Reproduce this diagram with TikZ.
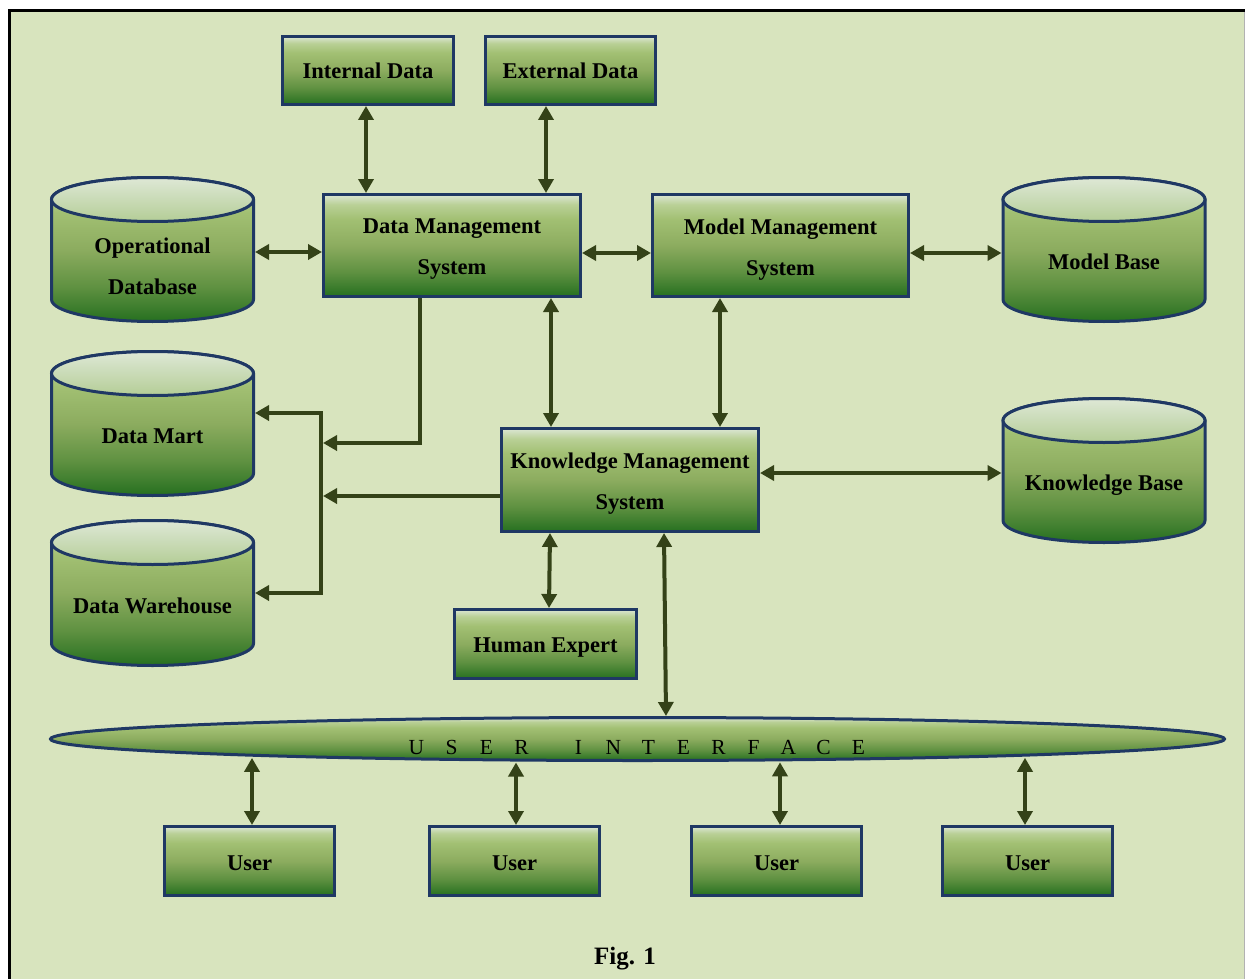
\documentclass[tikz,border=0pt]{standalone}
\usepackage{fontspec}
\setmainfont{Liberation Serif}
\usetikzlibrary{arrows.meta,shapes.geometric}
\definecolor{bg}{RGB}{216,228,190}
\definecolor{navy}{RGB}{31,56,100}
\definecolor{arrc}{RGB}{52,66,24}
\definecolor{gbz}{RGB}{38,112,32}
\definecolor{gba}{RGB}{95,145,65}
\definecolor{gbb}{RGB}{140,172,95}
\definecolor{gbc}{RGB}{162,192,115}
\definecolor{gbd}{RGB}{185,208,150}
\definecolor{gbe}{RGB}{220,230,212}
\definecolor{cta}{RGB}{222,232,214}
\definecolor{ctb}{RGB}{180,205,150}
\pgfdeclareverticalshading{gbox}{100bp}{color(0bp)=(gbz); color(25bp)=(gbz); color(37bp)=(gba); color(50bp)=(gbb); color(63bp)=(gbc); color(70bp)=(gbd); color(75bp)=(gbe); color(100bp)=(gbe)}
\newcommand\mainf{\fontsize{22.5}{41}\selectfont\bfseries}
\newcommand\ls[1]{\makebox[35pt]{#1}}
\newcommand\cylshape[3]{%
  \shade[shading=gbox, draw=navy, line width=3pt] ({#1-101},#2) -- ({#1-101},#3)
    arc[start angle=180,end angle=0,x radius=101,y radius=22] -- ({#1+101},#2)
    arc[start angle=0,end angle=-180,x radius=101,y radius=22] -- cycle;
  \shade[top color=cta, bottom color=ctb, draw=navy, line width=3pt] (#1,#2) ellipse[x radius=101, y radius=22];
}
\begin{document}
\begin{tikzpicture}[x=1pt,y=-1pt,
  boxs/.style={draw=navy, line width=3pt, shade, shading=gbox, inner sep=0pt},
  lbl/.style={align=center, font=\mainf, inner sep=0pt},
  cyltext/.style={inner sep=0pt, outer sep=0pt, minimum width=205pt, align=center, font=\mainf},
  tipa/.tip={Triangle[length=14pt,width=15pt]},
  dbl/.style={draw=arrc, line width=4pt, tipa-tipa},
  sgl/.style={draw=arrc, line width=4pt, -tipa}]
\fill[white] (0,0) rectangle (1245,979);
\useasboundingbox (0,0) rectangle (1245,979);
\fill[bg] (8,9) rectangle (1245,979);
\draw[black, line width=3pt] (9.5,979) -- (9.5,10.5) -- (1245,10.5);
\draw[gray!60, line width=1pt] (1244.5,12) -- (1244.5,979);

% cylinders
\cylshape{152.5}{199.5}{299.5}
\cylshape{1104}{199.5}{299.5}
\cylshape{152.5}{373.5}{473.5}
\cylshape{152.5}{542.5}{643.5}
\cylshape{1104}{420.5}{520.5}
\node[cyltext] (opdb) at (152.5,266) {Operational\\Database};
\node[cyltext] (mbase) at (1104,262) {Model Base};
\node[cyltext] (dmart) at (152.5,436) {Data Mart};
\node[cyltext] (dware) at (152.5,606) {Data Warehouse};
\node[cyltext] (kbase) at (1104,485) {Knowledge Base};

% boxes
\node[boxs, minimum width=171pt, minimum height=68pt, label={[lbl]center:Internal Data}] (idata) at (368,70.5) {};
\node[boxs, minimum width=170pt, minimum height=68pt, label={[lbl]center:External Data}] (edata) at (570.5,70.5) {};
\node[boxs, minimum width=257pt, minimum height=102pt, label={[lbl,yshift=-4pt]center:Data Management\\System}] (dms) at (452,245.5) {};
\node[boxs, minimum width=256pt, minimum height=102pt, label={[lbl,yshift=-4pt]center:Model Management\\System}] (mms) at (780.5,245.5) {};
\node[boxs, minimum width=257pt, minimum height=103pt, label={[lbl,yshift=-4pt]center:Knowledge Management\\System}] (kms) at (630,480) {};
\node[boxs, minimum width=182pt, minimum height=69pt, label={[lbl,yshift=-4pt]center:Human Expert}] (hexp) at (545.5,644) {};
\node[boxs, minimum width=170pt, minimum height=69pt, label={[lbl,yshift=-2pt]center:User}] (u1) at (249.5,861) {};
\node[boxs, minimum width=170pt, minimum height=69pt, label={[lbl,yshift=-2pt]center:User}] (u2) at (514.5,861) {};
\node[boxs, minimum width=170pt, minimum height=69pt, label={[lbl,yshift=-2pt]center:User}] (u3) at (776.5,861) {};
\node[boxs, minimum width=170pt, minimum height=69pt, label={[lbl,yshift=-2pt]center:User}] (u4) at (1027.5,861) {};

% user interface
\node[ellipse, draw=navy, line width=3pt, shade, shading=gbox, inner sep=0pt, minimum width=1174pt, minimum height=43pt,
  label={[inner sep=0pt, yshift=-8pt, font=\fontsize{21.5}{24}\selectfont]center:\ls{U}\ls{S}\ls{E}\ls{R}\hspace{22pt}\ls{I}\ls{N}\ls{T}\ls{E}\ls{R}\ls{F}\ls{A}\ls{C}\ls{E}}] (ui) at (637.5,739) {};

\node[font=\fontsize{25}{30}\selectfont\bfseries] (fig) at (625,959) {Fig. 1};

% connectors
\coordinate (bus) at (321,500);
\coordinate (jd) at (323,443);
\coordinate (jk) at (323,496);
\draw[dbl] ([xshift=-2pt]idata.south) -- ([xshift=-86pt]dms.north);
\draw[dbl] ([xshift=-24.5pt]edata.south) -- ([xshift=94pt]dms.north);
\draw[dbl] ([yshift=14pt]opdb.east) -- ([yshift=-6.5pt]dms.west);
\draw[dbl] ([yshift=-7.5pt]dms.east) -- ([yshift=-7.5pt]mms.west);
\draw[dbl] ([yshift=-7.5pt]mms.east) -- ([yshift=9pt]mbase.west);
\draw[dbl] ([xshift=99pt]dms.south) -- ([xshift=-79pt]kms.north);
\draw[dbl] ([xshift=-60.5pt]mms.south) -- ([xshift=90pt]kms.north);
\draw[dbl] ([yshift=7pt]kms.east) -- ([yshift=12pt]kbase.west);
\draw[dbl] ([xshift=-80pt]kms.south) -- ([xshift=3.5pt]hexp.north);
\draw[dbl] ([xshift=34pt]kms.south) -- ([xshift=28.5pt,yshift=23pt]ui.center);
\draw[dbl] ([xshift=-385.5pt,yshift=-18.9pt]ui.center) -- ([xshift=2.5pt]u1.north);
\draw[dbl] ([xshift=-121.5pt,yshift=-23.5pt]ui.center) -- ([xshift=1.5pt]u2.north);
\draw[dbl] ([xshift=142.5pt,yshift=-23.3pt]ui.center) -- ([xshift=3.5pt]u3.north);
\draw[dbl] ([xshift=387.5pt,yshift=-18.8pt]ui.center) -- ([xshift=-2.5pt]u4.north);
\draw[sgl] ([xshift=-32pt]dms.south) |- (jd);
\draw[sgl] ([yshift=-16pt]kms.west) -- (jk);
\draw[dbl] ([yshift=23pt]dmart.east) -| (bus) |- ([yshift=13pt]dware.east);
\end{tikzpicture}
\end{document}
